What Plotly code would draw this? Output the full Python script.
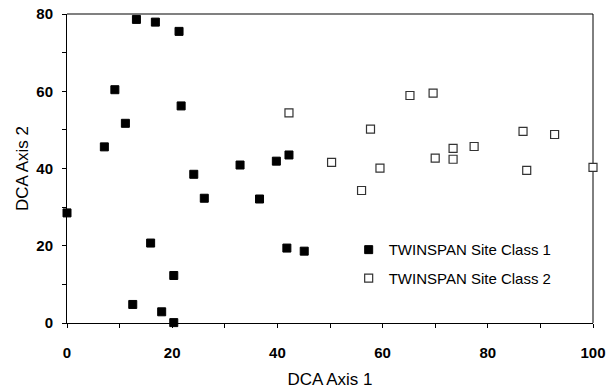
import plotly.graph_objects as go

# DCA ordination scores per site, grouped by TWINSPAN class
class1_axis1 = [13.2, 16.8, 21.3, 9.1, 21.7, 11.1, 7.1, 24.1, 0.0, 15.9, 20.3, 12.5,
                18.0, 20.3, 32.9, 39.8, 42.2, 26.1, 36.6, 41.8, 45.1]
class1_axis2 = [78.6, 77.9, 75.5, 60.4, 56.2, 51.7, 45.6, 38.5, 28.5, 20.7, 12.3, 4.8,
                2.9, 0.1, 40.9, 41.9, 43.5, 32.3, 32.1, 19.4, 18.6]

class2_axis1 = [42.2, 57.7, 50.3, 59.5, 56.0, 65.2, 69.6, 86.7, 92.7, 73.4, 77.4,
                70.0, 73.4, 87.4, 100.0]
class2_axis2 = [54.4, 50.2, 41.6, 40.1, 34.3, 58.9, 59.5, 49.6, 48.8, 45.2, 45.7,
                42.7, 42.4, 39.5, 40.3]

series_names = ["TWINSPAN Site Class 1", "TWINSPAN Site Class 2"]
x_ticks = [0, 20, 40, 60, 80, 100]
y_ticks = [0, 20, 40, 60, 80]

FONT = "Liberation Sans, Arial, sans-serif"

fig = go.Figure()
fig.add_trace(go.Scatter(
    x=class1_axis1, y=class1_axis2, mode="markers", name=series_names[0],
    legendgroup="c1", cliponaxis=False,
    marker=dict(symbol="square", size=8, color="black",
                line=dict(color="black", width=1)),
))
fig.add_trace(go.Scatter(
    x=class2_axis1, y=class2_axis2, mode="markers", name=series_names[1],
    legendgroup="c2", cliponaxis=False,
    marker=dict(symbol="square", size=8, color="white",
                line=dict(color="#333333", width=1.2)),
))

axis_common = dict(
    showgrid=False, zeroline=False, showline=True, linecolor="black", linewidth=1,
    ticks="outside", ticklen=4, tickwidth=1, tickcolor="black", automargin=False,
    tickfont=dict(family=FONT, size=15, color="black", weight="bold"),
    title_font=dict(family=FONT, size=17, color="black"),
    minor=dict(ticks="outside", ticklen=4, tickwidth=1, tickcolor="black", dtick=10),
)

fig.update_xaxes(range=[0, 100], tickvals=x_ticks, ticklabelstandoff=12,
                 title_text="DCA Axis 1", title_standoff=19, **axis_common)
fig.update_yaxes(range=[0, 80], tickvals=y_ticks, ticklabelstandoff=6,
                 title_text="DCA Axis 2", title_standoff=3, **axis_common)

# plot-area frame: grey top edge, black right edge
fig.add_shape(type="line", xref="paper", yref="paper", x0=0, x1=1, y0=1, y1=1,
              line=dict(color="#808080", width=2), layer="below")
fig.add_shape(type="line", xref="paper", yref="paper", x0=1, x1=1, y0=0, y1=1,
              line=dict(color="black", width=1), layer="below")

fig.update_layout(
    width=606, height=389,
    margin=dict(l=67, r=13, t=14, b=66),
    paper_bgcolor="white", plot_bgcolor="white",
    font=dict(family=FONT, color="black"),
    legend=dict(x=0.5355, y=0.29, xanchor="left", yanchor="top",
                font=dict(family=FONT, size=15, color="black"),
                bgcolor="rgba(0,0,0,0)", tracegroupgap=6, itemwidth=30),
)

fig.write_html("out.html")
